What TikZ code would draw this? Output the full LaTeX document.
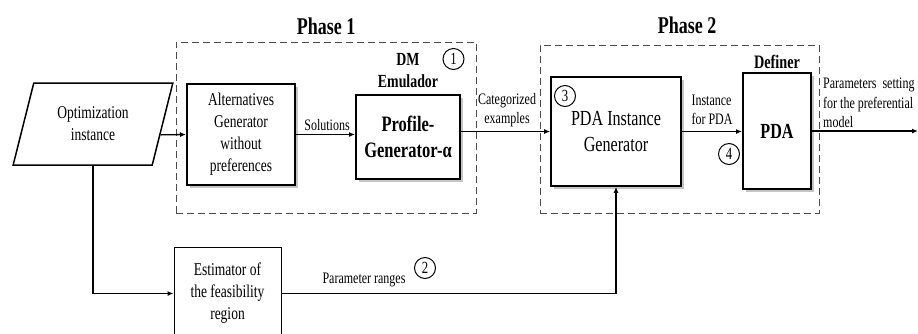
\documentclass[tikz,border=0pt]{standalone}
\usepackage{fontspec}
\setmainfont{Liberation Serif}[FakeStretch=0.75]
\usetikzlibrary{arrows.meta, shapes.geometric, shadows, calc}

\begin{document}
\begin{tikzpicture}[x=1pt, y=-1pt,
  font=\fontsize{18}{22}\selectfont,
  block/.style={draw, line width=2pt, fill=white, align=center, inner sep=0pt,
    drop shadow={shadow xshift=2.5pt, shadow yshift=-2.5pt, fill=black!45}},
  plain/.style={draw, line width=1pt, fill=white, align=center, inner sep=0pt},
  phase/.style={draw=black!70, line width=0.9pt, dash pattern=on 7pt off 4pt, inner sep=0pt},
  title/.style={font=\fontsize{24}{28}\bfseries\selectfont},
  lbl/.style={font=\fontsize{16}{19.5}\selectfont, align=center, inner sep=0pt},
  num/.style={draw, circle, line width=1pt, minimum size=21pt, inner sep=0pt, font=\fontsize{17}{17}\selectfont},
  arr/.style={-{Latex[length=6pt, width=5pt]}, line width=1.3pt},
]
\useasboundingbox (0,0) rectangle (918,333);
\node[phase, minimum width=300pt, minimum height=171pt] (ph1) at (326,127.5) {};
\node[phase, minimum width=279pt, minimum height=168pt] (ph2) at (679.5,129) {};
\node[title] (t1) at (326,26) {Phase 1};
\node[title] (t2) at (687,25) {Phase 2};
\node[trapezium, trapezium left angle=70, trapezium right angle=110, trapezium stretches=true,
  draw, line width=1.5pt, minimum width=160pt, minimum height=82pt, align=center, inner sep=0pt] (opt) at (93,124) {Optimization\\instance};
\node[block, minimum width=108pt, minimum height=101pt] (alt) at (241,134.5) {Alternatives\\Generator\\without\\preferences};
\node[block, minimum width=104pt, minimum height=84pt, font=\fontsize{22}{26}\bfseries\selectfont] (prof) at (408,137) {Profile-\\Generator-α};
\node[font=\fontsize{18.5}{22.5}\bfseries\selectfont, align=center] (dm) at (408,70.5) {DM\\Emulador};
\node[num] (n1) at (453.5,59) {1};
\node[block, line width=1.6pt, minimum width=130pt, minimum height=109pt, font=\fontsize{21.5}{26}\selectfont] (gen) at (616,131.5) {PDA Instance\\Generator};
\node[num] (n3) at (565,96) {3};
\node[block, minimum width=68pt, minimum height=116pt, font=\fontsize{21.5}{26}\bfseries\selectfont] (pda) at (777,131) {PDA};
\node[font=\fontsize{19}{23}\bfseries\selectfont] (def) at (777,62) {Definer};
\node[num] (n4) at (729,154) {4};
\node[plain, minimum width=107pt, minimum height=93pt] (est) at (227.5,293.5) {Estimator of\\the feasibility\\region};
\node[num] (n2) at (425,268) {2};
\coordinate (out) at (918,131);
\node[lbl] (sol) at (327,125) {Solutions};
\node[lbl] (cat) at (507,110) {Categorized\\examples};
\node[lbl, align=left] (inst) at (712,110) {Instance\\for PDA};
\node[lbl, align=left, anchor=west] (par) at (823,103) {Parameters\ \ setting\\for the preferential\\model};
\node[lbl] (rng) at (364,280) {Parameter ranges};
\draw[arr] ($(opt.bottom right corner)!0.37!(opt.top right corner)$) -- (alt.west);
\draw[arr] (alt.east) -- (prof.west |- alt.east);
\draw[arr] (prof.east |- gen.west) -- (gen.west);
\draw[arr] (gen.east) -- (pda.west |- gen.east);
\draw[arr] (pda.east) -- (out);
\draw[arr] (opt.south) |- (est.west);
\draw[arr] (est.east) -| (gen.south);
\end{tikzpicture}
\end{document}
